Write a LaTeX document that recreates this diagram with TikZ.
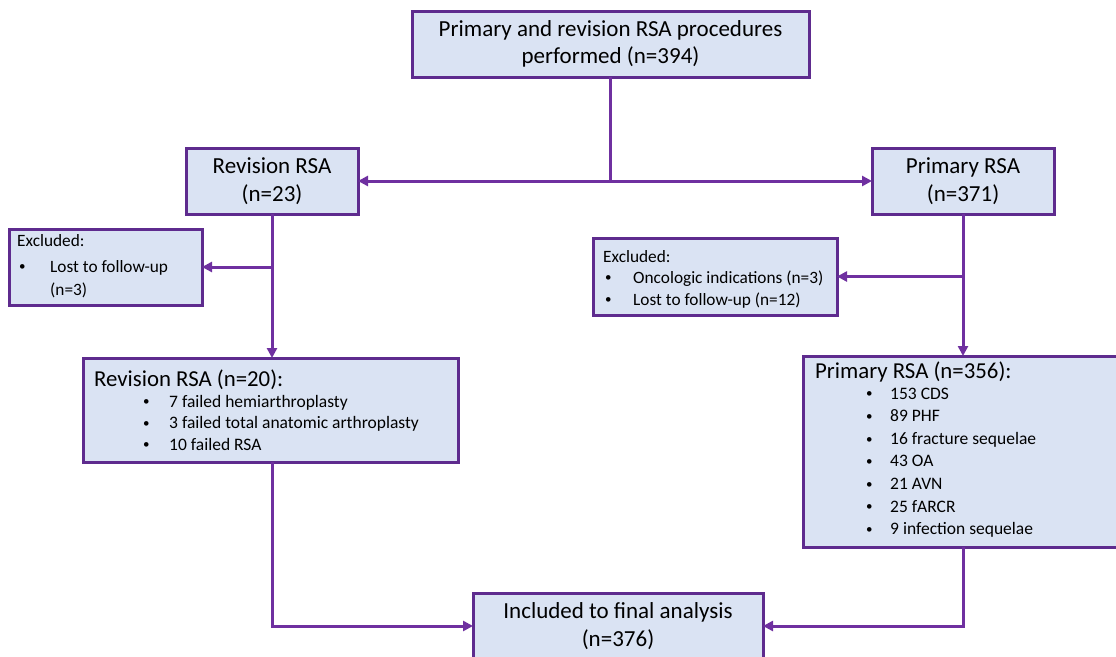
\documentclass[tikz,border=0pt]{standalone}
\usepackage{fontspec}
\setmainfont{Carlito}
\usetikzlibrary{arrows.meta,calc}
\definecolor{boxfill}{HTML}{DAE3F3}
\definecolor{boxdraw}{HTML}{5E2B8E}
\definecolor{linecol}{HTML}{6F30A0}
\newcommand{\smbul}{{\fontsize{13}{13}\selectfont\raisebox{1.2pt}{•}}}
\begin{document}
\begin{tikzpicture}[x=1pt,y=-1pt,
  box/.style={draw=boxdraw, fill=boxfill, line width=3pt, inner sep=0pt, outer sep=0pt, anchor=north west},
  ln/.style={draw=linecol, line width=3pt},
  arr/.style={draw=linecol, line width=3pt, -{Triangle[length=10pt,width=10pt]}},
  big/.style={font=\fontsize{23}{27.5}\selectfont, align=center, inner sep=0pt},
  head/.style={font=\fontsize{22.8}{25}\selectfont, anchor=base west, inner sep=0pt},
  item/.style={font=\fontsize{17.5}{19}\selectfont, anchor=base west, inner sep=0pt},
  exitem/.style={font=\fontsize{17.3}{18}\selectfont, anchor=base west, inner sep=0pt}]
\useasboundingbox (0,0) rectangle (1116,656);

% boxes
\node[box, minimum width=397pt, minimum height=66pt] (top) at (412,11) {};
\node[box, minimum width=172pt, minimum height=66pt] (rev1) at (186,148) {};
\node[box, minimum width=182pt, minimum height=66pt] (pri1) at (872,148) {};
\node[box, minimum width=193pt, minimum height=76pt] (exl) at (9,229) {};
\node[box, minimum width=244pt, minimum height=77pt] (exr) at (593,238) {};
\node[box, minimum width=375pt, minimum height=104pt] (rev2) at (83,358) {};
\node[box, minimum width=320pt, minimum height=191pt] (pri2) at (803,356) {};
\node[box, minimum width=290pt, minimum height=66pt] (inc) at (473,593) {};

% centred texts
\node[big] (topt) at (top.center) {Primary and revision RSA procedures\\performed (n=394)};
\node[big] (rev1t) at (rev1.center) {Revision RSA\\(n=23)};
\node[big] (pri1t) at (pri1.center) {Primary RSA\\(n=371)};
\node[big] (inct) at (inc.center) {Included to final analysis\\(n=376)};

% excluded left
\node[exitem] (exlh) at (17,246) {Excluded:};
\node[exitem] (exlb) at (19,272) {\smbul};
\node[exitem] (exl1) at (50,272) {Lost to follow-up};
\node[exitem] (exl2) at (50,295) {(n=3)};

% excluded right
\node[exitem] (exrh) at (603,262) {Excluded:};
\node[exitem] (exrb1) at (605,283) {\smbul};
\node[exitem] (exr1) at (633,283) {Oncologic indications (n=3)};
\node[exitem] (exrb2) at (605,305) {\smbul};
\node[exitem] (exr2) at (633,305) {Lost to follow-up (n=12)};

% revision list
\node[head] (rev2h) at (94,386) {Revision RSA (n=20):};
\foreach \t [count=\i] in {7 failed hemiarthroplasty, 3 failed total anatomic arthroplasty, 10 failed RSA} {
  \node[item] (rb\i) at (143,{407+21.5*(\i-1)}) {\smbul};
  \node[item] (ri\i) at (169,{407+21.5*(\i-1)}) {\t};
}

% primary list
\node[head] (pri2h) at (815,378) {Primary RSA (n=356):};
\foreach \t [count=\i] in {153 CDS, 89 PHF, 16 fracture sequelae, 43 OA, 21 AVN, 25 fARCR, 9 infection sequelae} {
  \node[item] (pb\i) at (866,{399+22.6*(\i-1)}) {\smbul};
  \node[item] (pi\i) at (890,{399+22.6*(\i-1)}) {\t};
}

% connectors
\coordinate (j1) at (top.south |- rev1.east);
\draw[ln] (top.south) -- (j1);
\draw[arr] (j1) -- (rev1.east);
\draw[arr] (j1) -- (pri1.west);

\coordinate (j2) at (rev1.south |- exl.east);
\draw[arr] (rev1.south) -- (rev1.south |- rev2.north);
\draw[arr] (j2) -- (exl.east);

\coordinate (j3) at (pri1.south |- exr.east);
\draw[arr] (pri1.south) -- (pri1.south |- pri2.north);
\draw[arr] (j3) -- (exr.east);

\coordinate (j4) at (rev1.south |- rev2.south);
\draw[arr] (j4) |- (inc.west);
\coordinate (j5) at (pri1.south |- pri2.south);
\draw[arr] (j5) |- (inc.east);
\end{tikzpicture}
\end{document}
